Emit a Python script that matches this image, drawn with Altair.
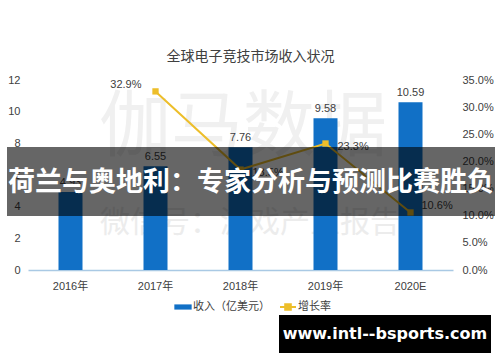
import altair as alt
import pandas as pd

years = ["2016年", "2017年", "2018年", "2019年", "2020E"]
revenue = [4.93, 6.55, 7.76, 9.58, 10.59]
growth = [None, 0.329, 0.185, 0.233, 0.106]
growth_labels = ["", "32.9%", "18.5%", "23.3%", "10.6%"]
left_ticks = [0, 2, 4, 6, 8, 10, 12]
right_ticks = [0, 0.05, 0.10, 0.15, 0.20, 0.25, 0.30, 0.35]

BLUE = "#1170C6"
GOLD = "#EDBE2A"
TXT = "#404040"
FONT = "Liberation Sans, Noto Sans CJK SC"
CJK = "Noto Sans CJK SC"

df = pd.DataFrame({
    "year": years,
    "revenue": revenue,
    "growth": growth,
    "glabel": growth_labels,
    "sbar": ["收入（亿美元）"] * len(years),
    "sline": ["增长率"] * len(years),
})

W, H = 425, 190
x = alt.X("year:N", sort=years, title=None,
          scale=alt.Scale(paddingInner=0.0, paddingOuter=0.0),
          axis=alt.Axis(labelAngle=0, labelFont=FONT, labelFontSize=11, labelColor=TXT,
                        ticks=False, domainColor="#A9C9E4", domainWidth=1.5, labelPadding=10))

yL = alt.Y("revenue:Q", title=None,
           scale=alt.Scale(domain=[0, 12], nice=False),
           axis=alt.Axis(values=left_ticks, grid=False, domain=False, ticks=False,
                         labelFont=FONT, labelFontSize=11, labelColor=TXT, labelPadding=8))
yR = alt.Y("growth:Q", title=None, scale=alt.Scale(domain=[0, 0.35], nice=False),
           axis=alt.Axis(values=right_ticks, format=".1%", orient="right", grid=False,
                         domain=False, ticks=False, labelFont=FONT, labelFontSize=11,
                         labelColor=TXT, labelPadding=9, labelAlign="left"))

base = alt.Chart(df)

wm = alt.Chart(pd.DataFrame({"t": ["伽马数据", "微信号：游戏产业报告"], "fs": [72, 30]}))
wm1 = wm.transform_filter("datum.fs == 72").mark_text(font=CJK, fontSize=72, color="#f0f0f0").encode(
    text="t:N", x=alt.value(215), y=alt.value(48))
wm2 = wm.transform_filter("datum.fs == 30").mark_text(font=CJK, fontSize=30, color="#ececec").encode(
    text="t:N", x=alt.value(222), y=alt.value(143))

bars = base.mark_bar(size=24).encode(
    x=x, y=yL,
    fill=alt.Fill("sbar:N", scale=alt.Scale(domain=["收入（亿美元）"], range=[BLUE]),
                  legend=alt.Legend(title=None, orient="none", legendX=146, legendY=218,
                                    symbolType="M-1,-0.3H1V0.3H-1Z", symbolSize=300,
                                    symbolStrokeWidth=0, labelFont=CJK, labelFontSize=11,
                                    labelColor=TXT, labelOffset=1)))
bar_text = base.mark_text(dy=-9, font=FONT, fontSize=11, color=TXT).encode(
    x=x, y=yL, text=alt.Text("revenue:Q", format=".2f"))

left = alt.layer(bars, bar_text)

gdf = base.transform_filter("isValid(datum.growth)")
line = gdf.mark_line(strokeWidth=2).encode(
    x=x, y=yR,
    stroke=alt.Stroke("sline:N", scale=alt.Scale(domain=["增长率"], range=[GOLD]),
                      legend=alt.Legend(title=None, orient="none", legendX=251, legendY=218,
                                        symbolType="M-1,0H1M-0.35,-0.35H0.35V0.35H-0.35Z",
                                        symbolSize=256, symbolStrokeWidth=2,
                                        symbolFillColor=GOLD, labelFont=CJK, labelFontSize=11,
                                        labelColor=TXT, labelOffset=1)))
pts = gdf.mark_point(shape="square", size=40, filled=True, opacity=1, color=GOLD).encode(x=x, y=yR)
lab1 = gdf.transform_filter("datum.year == '2017年'").mark_text(
    align="right", dx=-14, dy=-6, font=FONT, fontSize=11, color=TXT).encode(x=x, y=yR, text="glabel:N")
lab2 = gdf.transform_filter("datum.year == '2018年' || datum.year == '2019年'").mark_text(
    align="left", dx=12, dy=3, font=FONT, fontSize=11, color=TXT).encode(x=x, y=yR, text="glabel:N")
lab3 = gdf.transform_filter("datum.year == '2020E'").mark_text(
    align="left", dx=11, dy=-6, font=FONT, fontSize=11, color=TXT).encode(x=x, y=yR, text="glabel:N")
right = alt.layer(line, pts, lab1, lab2, lab3)

ov = alt.Chart(pd.DataFrame({"t": ["荷兰与奥地利：专家分析与预测比赛胜负"], "w": ["www.intl--bsports.com"]}))
banner = ov.mark_rect(color="black", opacity=0.6).encode(
    x=alt.value(-21), x2=alt.value(467), y=alt.value(67), y2=alt.value(136))
banner_text = ov.mark_text(font=CJK, fontSize=27, fontWeight="bold", color="white").encode(
    text="t:N", x=alt.value(223), y=alt.value(103))
wbox = ov.mark_rect(color="black").encode(
    x=alt.value(251), x2=alt.value(463), y=alt.value(235), y2=alt.value(273))
wtext = ov.mark_text(font="DejaVu Sans", fontSize=16, fontWeight="bold", color="white").encode(
    text="w:N", x=alt.value(357), y=alt.value(254))

chart = alt.layer(wm1, wm2, left, right, banner, banner_text, wbox, wtext).resolve_scale(
    y="independent", fill="independent", stroke="independent"
).properties(
    width=W, height=H,
    title=alt.TitleParams("全球电子竞技市场收入状况", font=CJK, fontSize=14, fontWeight="normal",
                          color="#404040", anchor="middle", dx=10, offset=10),
    autosize=alt.AutoSizeParams(type="none"),
    padding={"left": 28, "top": 80, "right": 47, "bottom": 92},
    background="white",
).configure_view(stroke=None)

chart.save("out.html", embed_options={"renderer": "svg", "actions": False})
